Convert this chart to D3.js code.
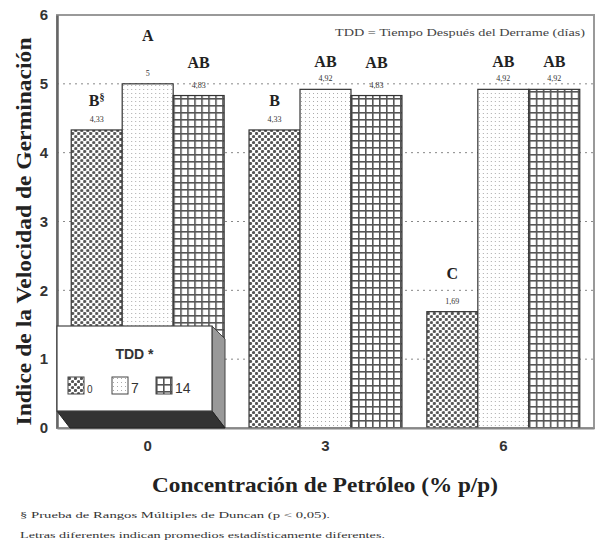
<!DOCTYPE html>
<html>
<head>
<meta charset="utf-8">
<script src="https://cdn.jsdelivr.net/npm/d3@7"></script>
<style>
  body { margin: 0; background: #fff; }
  svg { display: block; }
</style>
</head>
<body>
<div id="chart"></div>
<script>
// concentracion de petroleo (% p/p)
var concentrations = ['0', '3', '6'];
// TDD = tiempo despues del derrame (dias)
var tddKeys = ['0', '7', '14'];

var valuesTdd0 = [4.33, 4.33, 1.69];
var valuesTdd7 = [5.00, 4.92, 4.92];
var valuesTdd14 = [4.83, 4.83, 4.92];

var valueLabelsTdd0 = ['4,33', '4,33', '1,69'];
var valueLabelsTdd7 = ['5', '4,92', '4,92'];
var valueLabelsTdd14 = ['4,83', '4,83', '4,92'];

var lettersTdd0 = ['B', 'B', 'C'];
var lettersTdd7 = ['A', 'AB', 'AB'];
var lettersTdd14 = ['AB', 'AB', 'AB'];

var yTicks = [0, 1, 2, 3, 4, 5, 6];

var WIDTH = 598, HEIGHT = 543;
var margin = { left: 57, right: 4, top: 15, bottom: 115 };

var svg = d3.select('#chart').append('svg')
  .attr('width', WIDTH)
  .attr('height', HEIGHT);

var defs = svg.append('defs');

// patterns for the three TDD series
var p0 = defs.append('pattern').attr('id', 'pat0')
  .attr('patternUnits', 'userSpaceOnUse').attr('width', 6).attr('height', 6);
p0.append('rect').attr('width', 6).attr('height', 6).attr('fill', '#fff');
p0.append('circle').attr('cx', 1.5).attr('cy', 1.5).attr('r', 1.6).attr('fill', '#555');
p0.append('circle').attr('cx', 4.5).attr('cy', 4.5).attr('r', 1.6).attr('fill', '#555');

var p7 = defs.append('pattern').attr('id', 'pat7')
  .attr('patternUnits', 'userSpaceOnUse').attr('width', 4).attr('height', 4);
p7.append('rect').attr('width', 4).attr('height', 4).attr('fill', '#fff');
p7.append('rect').attr('x', 1).attr('y', 1).attr('width', 1).attr('height', 1).attr('fill', '#aaa');

var p14 = defs.append('pattern').attr('id', 'pat14')
  .attr('patternUnits', 'userSpaceOnUse').attr('width', 7).attr('height', 7);
p14.append('rect').attr('width', 7).attr('height', 7).attr('fill', '#fff');
p14.append('rect').attr('x', 0).attr('y', 0).attr('width', 7).attr('height', 1.6).attr('fill', '#555');
p14.append('rect').attr('x', 0).attr('y', 0).attr('width', 1.6).attr('height', 7).attr('fill', '#555');

var fills = { '0': 'url(#pat0)', '7': 'url(#pat7)', '14': 'url(#pat14)' };

var plotW = WIDTH - margin.left - margin.right;
var plotH = HEIGHT - margin.top - margin.bottom;

var x0 = d3.scaleBand().domain(concentrations)
  .range([margin.left, WIDTH - margin.right])
  .paddingInner(0.14).paddingOuter(0.08);
var x1 = d3.scaleBand().domain(tddKeys).range([0, x0.bandwidth()]);
var y = d3.scaleLinear().domain([0, 6]).range([margin.top + plotH, margin.top]);

// dotted gridlines
svg.append('g').selectAll('line')
  .data(yTicks.filter(function(d) { return d > 0 && d < 6; }))
  .enter().append('line')
  .attr('x1', margin.left).attr('x2', WIDTH - margin.right)
  .attr('y1', function(d) { return y(d); }).attr('y2', function(d) { return y(d); })
  .attr('stroke', '#888').attr('stroke-width', 1).attr('stroke-dasharray', '2,4');

// frame (top and right)
svg.append('rect')
  .attr('x', margin.left).attr('y', margin.top)
  .attr('width', plotW).attr('height', plotH)
  .attr('fill', 'none').attr('stroke', '#999').attr('stroke-width', 2);

// build rows
var series = [
  { key: '0', values: valuesTdd0, labels: valueLabelsTdd0, letters: lettersTdd0 },
  { key: '7', values: valuesTdd7, labels: valueLabelsTdd7, letters: lettersTdd7 },
  { key: '14', values: valuesTdd14, labels: valueLabelsTdd14, letters: lettersTdd14 }
];
var rows = [];
concentrations.forEach(function(c, i) {
  series.forEach(function(s) {
    rows.push({ conc: c, key: s.key, value: s.values[i], label: s.labels[i], letter: s.letters[i], gi: i });
  });
});

var bars = svg.append('g').selectAll('g')
  .data(rows).enter().append('g')
  .attr('transform', function(d) { return 'translate(' + (x0(d.conc) + x1(d.key)) + ',0)'; });

bars.append('rect')
  .attr('x', 0).attr('width', x1.bandwidth())
  .attr('y', function(d) { return y(d.value); })
  .attr('height', function(d) { return y(0) - y(d.value); })
  .attr('fill', function(d) { return fills[d.key]; })
  .attr('stroke', '#333').attr('stroke-width', 1.2);

bars.append('text')
  .attr('x', x1.bandwidth() / 2)
  .attr('y', function(d) { return y(d.value) - 8; })
  .attr('text-anchor', 'middle')
  .attr('font-family', 'Liberation Serif, serif')
  .attr('font-size', 8)
  .attr('fill', '#333')
  .text(function(d) { return d.label; });

// letter groups: A sits higher above its bar in the original
bars.append('text')
  .attr('x', x1.bandwidth() / 2)
  .attr('y', function(d) {
    var lift = 24;
    if (d.letter == 'AB') lift = 28;
    if (d.letter == 'A') lift = 43;
    if (d.letter == 'C') lift = 33;
    if (d.letter == 'AB' && d.value > 4.9) lift = 22;
    return y(d.value) - lift;
  })
  .attr('text-anchor', 'middle')
  .attr('font-family', 'Liberation Serif, serif')
  .attr('font-weight', 'bold')
  .attr('font-size', 16)
  .attr('fill', '#222')
  .text(function(d) { return d.letter; })
  .filter(function(d) { return d.gi == 0 && d.key == '0'; })
  .append('tspan')
  .attr('dy', -6).attr('font-size', 10)
  .text('§');

// axes
var yAxis = d3.axisLeft(y).tickValues(yTicks).tickFormat(d3.format('d')).tickSize(0).tickPadding(9);
var gy = svg.append('g').attr('transform', 'translate(' + margin.left + ',0)').call(yAxis);
gy.select('.domain').attr('stroke', '#666').attr('stroke-width', 2.5);
gy.selectAll('text')
  .attr('font-family', 'Liberation Sans, Arial, sans-serif')
  .attr('font-weight', 'bold').attr('font-size', 15).attr('fill', '#333');

var xAxis = d3.axisBottom(x0).tickSize(0).tickPadding(12);
var gx = svg.append('g').attr('transform', 'translate(0,' + y(0) + ')').call(xAxis);
gx.select('.domain').attr('stroke', '#888').attr('stroke-width', 2);
gx.selectAll('text')
  .attr('font-family', 'Liberation Sans, Arial, sans-serif')
  .attr('font-weight', 'bold').attr('font-size', 15).attr('fill', '#333');

// axis titles
svg.append('text')
  .attr('transform', 'translate(31,' + (margin.top + plotH / 2 + 10) + ') rotate(-90)')
  .attr('text-anchor', 'middle')
  .attr('font-family', 'Liberation Serif, serif')
  .attr('font-weight', 'bold').attr('font-size', 22).attr('fill', '#222')
  .attr('textLength', 388).attr('lengthAdjust', 'spacingAndGlyphs')
  .text('Indice de la Velocidad de Germinación');

svg.append('text')
  .attr('x', 325).attr('y', 492)
  .attr('text-anchor', 'middle')
  .attr('font-family', 'Liberation Serif, serif')
  .attr('font-weight', 'bold').attr('font-size', 22).attr('fill', '#222')
  .attr('textLength', 346).attr('lengthAdjust', 'spacingAndGlyphs')
  .text('Concentración de Petróleo (% p/p)');

// note
svg.append('text')
  .attr('x', 585).attr('y', 36)
  .attr('text-anchor', 'end')
  .attr('font-family', 'Liberation Serif, serif')
  .attr('font-size', 10).attr('fill', '#444')
  .attr('textLength', 250).attr('lengthAdjust', 'spacingAndGlyphs')
  .text('TDD = Tiempo Después del Derrame (días)');

// footnotes
svg.append('text')
  .attr('x', 20).attr('y', 518)
  .attr('font-family', 'Liberation Serif, serif')
  .attr('font-size', 9).attr('fill', '#333')
  .attr('textLength', 310).attr('lengthAdjust', 'spacingAndGlyphs')
  .text('§ Prueba de Rangos Múltiples de Duncan (p < 0,05).');
svg.append('text')
  .attr('x', 20).attr('y', 538)
  .attr('font-family', 'Liberation Serif, serif')
  .attr('font-size', 9).attr('fill', '#333')
  .attr('textLength', 365).attr('lengthAdjust', 'spacingAndGlyphs')
  .text('Letras diferentes indican promedios estadísticamente diferentes.');

// legend box with 3d edge
var lg = svg.append('g');
var lx = margin.left, ly = 326, lw = 155, lh = 85, depth = 13;
lg.append('path')
  .attr('d', 'M' + (lx + lw) + ',' + ly + 'L' + (lx + lw + depth) + ',' + (ly + depth) +
    'L' + (lx + lw + depth) + ',' + (ly + lh + 17) + 'L' + (lx + lw) + ',' + (ly + lh) + 'Z')
  .attr('fill', '#999').attr('stroke', '#444').attr('stroke-width', 1);
lg.append('path')
  .attr('d', 'M' + lx + ',' + (ly + lh) + 'L' + (lx + lw) + ',' + (ly + lh) +
    'L' + (lx + lw + depth) + ',' + (ly + lh + 17) + 'L' + (lx + depth) + ',' + (ly + lh + 17) + 'Z')
  .attr('fill', '#333').attr('stroke', '#222').attr('stroke-width', 1);
lg.append('rect')
  .attr('x', lx).attr('y', ly).attr('width', lw).attr('height', lh)
  .attr('fill', '#fff').attr('stroke', '#444').attr('stroke-width', 1.2);
lg.append('text')
  .attr('x', lx + lw / 2).attr('y', ly + 33)
  .attr('text-anchor', 'middle')
  .attr('font-family', 'Liberation Sans, Arial, sans-serif')
  .attr('font-weight', 'bold').attr('font-size', 14).attr('fill', '#333')
  .text('TDD *');

var items = lg.selectAll('g.item').data(tddKeys).enter().append('g')
  .attr('class', 'item')
  .attr('transform', function(d, i) { return 'translate(' + (lx + 11 + i * 44) + ',' + (ly + 51) + ')'; });
items.append('rect')
  .attr('width', 16).attr('height', 17)
  .attr('fill', function(d) { return fills[d]; })
  .attr('stroke', '#444').attr('stroke-width', 1);
items.append('text')
  .attr('x', 19).attr('y', 16)
  .attr('font-family', 'Liberation Sans, Arial, sans-serif')
  .attr('font-size', function(d) { return d == '0' ? 10 : 14; })
  .attr('fill', '#333')
  .text(function(d) { return d; });
</script>
</body>
</html>
